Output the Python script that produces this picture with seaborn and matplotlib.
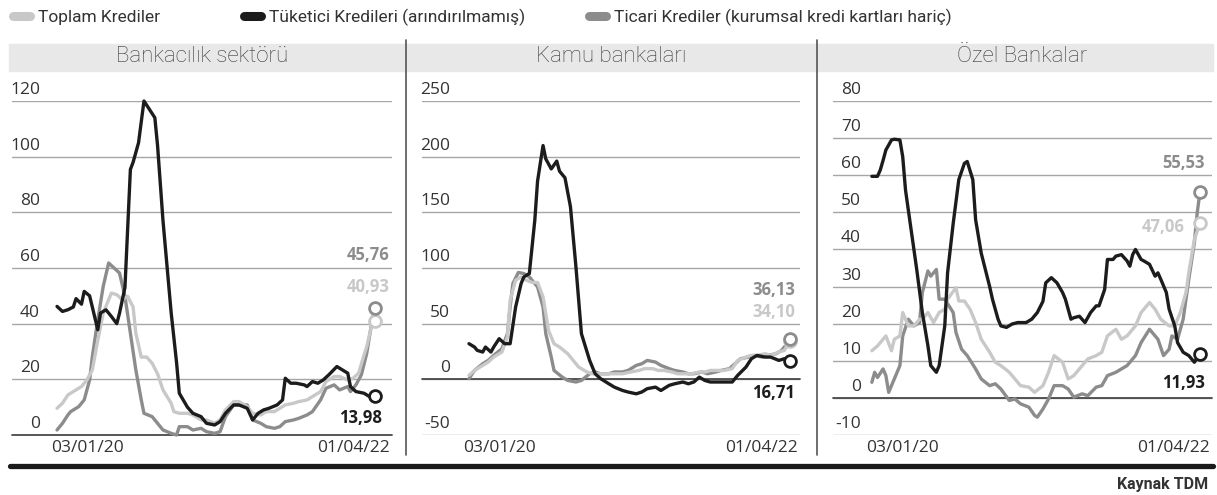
import numpy as np
import pandas as pd
import matplotlib
matplotlib.use("Agg")
import matplotlib.pyplot as plt
import seaborn as sns
from matplotlib.lines import Line2D
from matplotlib.patches import Rectangle

# Haftalık seriler: hafta no (03/01/2020 = 0, 01/04/2022 = 117) ve yıllık değişim (%)
# Bankacılık sektörü
banka_toplam_hafta = [0, 2, 4, 6, 9, 11, 13, 15, 17, 18, 20, 22, 24, 26, 28, 29, 31, 33, 35, 37,
                      39, 42, 43, 45, 48, 50, 53, 55, 58, 60, 62, 65, 67, 70, 72, 75, 77, 80, 82, 84,
                      87, 89, 92, 94, 97, 99, 102, 104, 107, 109, 111, 113, 114, 116, 117]
banka_toplam = [9.6, 11.4, 14.4, 15.6, 17.4, 19.8, 23.4, 34, 43.8, 46.2, 51, 50.4, 48.6, 49.8, 46, 36.6, 28, 28, 25.8, 22,
                16.2, 11.4, 8.4, 7.8, 7.8, 7.2, 5.4, 5.4, 4.2, 5.4, 9, 12, 12, 10.2, 7.8, 7.2, 8.4, 8.4, 9.6, 10.8,
                11.4, 12, 12.6, 13.8, 15.6, 19.2, 21, 21, 19.8, 20.4, 22.2, 28.8, 31.8, 40.2, 40.93]
banka_tuketici_hafta = [0, 2, 4, 6, 7, 9, 10, 12, 15, 16, 18, 20, 22, 23, 25, 27, 28, 30, 32, 34,
                        36, 37, 39, 42, 44, 45, 48, 50, 53, 55, 58, 60, 62, 65, 67, 70, 72, 74, 76, 78,
                        81, 83, 84, 86, 88, 91, 92, 94, 96, 98, 100, 103, 105, 107, 108, 110, 113, 115, 117]
banka_tuketici = [46.2, 44.4, 45, 46, 49, 47, 51.6, 50, 37.8, 43.8, 45, 42.6, 40, 43.8, 53, 95.4, 98, 105, 120, 117,
                  114, 104, 77, 44, 26, 15, 10, 7.8, 6.6, 4.2, 3.6, 4.8, 7.8, 10.8, 10.8, 9.6, 5.4, 7.8, 9, 9.6,
                  10.8, 12.6, 20.4, 18.6, 18.6, 18, 17.4, 19.2, 18.6, 19.8, 21.6, 24.6, 23.4, 22.2, 17.4, 15.6, 15, 13.8, 13.98]
banka_ticari_hafta = [0, 2, 4, 5, 8, 10, 12, 13, 15, 17, 19, 21, 23, 25, 27, 29, 31, 32, 35, 37,
                      39, 42, 44, 45, 48, 50, 53, 55, 58, 60, 62, 65, 67, 70, 72, 75, 77, 80, 82, 84,
                      87, 89, 92, 94, 97, 99, 102, 104, 107, 108, 110, 112, 114, 116, 117]
banka_ticari = [1.8, 4.2, 7.2, 8.4, 10.2, 12.6, 19.8, 28.2, 41.4, 53.4, 61.8, 60, 58.2, 49.8, 36.6, 23.4, 12.6, 7.8, 6.6, 4.2,
                1.8, 0.6, 0, 3, 3, 1.8, 2.4, 1.2, 0.6, 1.2, 6.6, 10.8, 10.8, 10.8, 5.4, 4.2, 3, 2.4, 3, 4.8,
                5.4, 6, 7.2, 8.4, 12.6, 16.8, 18, 16.2, 17.4, 15.6, 18, 21.6, 29.4, 41.4, 45.76]

# Kamu bankaları
kamu_toplam_hafta = [0, 2, 5, 7, 9, 12, 14, 15, 17, 19, 20, 23, 25, 27, 29, 31, 33, 36, 38, 40,
                     43, 45, 48, 52, 56, 59, 62, 64, 67, 69, 71, 74, 76, 79, 81, 84, 86, 88, 91, 93,
                     96, 98, 101, 103, 105, 108, 110, 113, 115, 117]
kamu_toplam = [3.6, 8, 12.5, 15.5, 20, 24.5, 38, 71, 89, 92, 90, 87, 87, 74, 44, 32, 29, 23, 17, 11,
               6.6, 5, 5, 5, 5, 6.6, 8, 9.6, 9.6, 8, 8, 6.6, 5, 5, 5, 6.6, 6.6, 8, 8, 8,
               9.6, 17, 20, 21.5, 21.5, 23, 21.5, 24.5, 26, 34.10]
kamu_tuketici_hafta = [0, 2, 3, 5, 6, 8, 9, 11, 13, 15, 17, 19, 20, 22, 24, 25, 27, 28, 30, 32,
                       33, 35, 37, 39, 41, 44, 46, 48, 51, 53, 56, 58, 61, 63, 65, 68, 70, 73, 75, 78,
                       80, 82, 84, 86, 88, 91, 93, 96, 98, 101, 103, 105, 108, 110, 113, 115, 117]
kamu_tuketici = [32, 29, 26, 24.5, 29, 24.5, 29, 36.5, 32, 32, 65, 86, 92, 95, 143, 178, 210, 198, 189, 196,
                 187, 181, 155, 101, 41, 17, 5, 0.6, -4, -7, -10, -11.4, -13, -11.4, -8.4, -7, -10, -5.4, -4, -2.4,
                 -4, -2.4, 2, -1, -2.4, -2.4, -2.4, -2.4, 3.6, 11, 18.5, 21.5, 20, 20, 17, 18.5, 16.71]
kamu_ticari_hafta = [0, 2, 5, 7, 9, 12, 14, 15, 16, 18, 20, 22, 23, 25, 27, 28, 30, 31, 34, 36,
                     39, 41, 44, 46, 48, 51, 53, 56, 58, 61, 63, 65, 68, 70, 73, 75, 78, 80, 82, 85,
                     87, 90, 92, 95, 97, 99, 102, 104, 107, 109, 112, 114, 116, 117]
kamu_ticari = [0.6, 8, 14, 17, 21.5, 27.5, 41, 65, 86, 96, 95, 92, 89, 83, 65, 41, 20, 8, 2, -1,
               -2.4, -1, 5, 6.6, 5, 5, 6.6, 6.6, 8, 12.5, 14, 17, 15.5, 12.5, 9.6, 8, 6.6, 5, 5, 6.6,
               5, 6.6, 8, 9.6, 14, 18.5, 20, 21.5, 20, 21.5, 23, 26, 32, 36.13]

# Özel bankalar
ozel_toplam_hafta = [0, 2, 4, 5, 7, 8, 10, 11, 13, 15, 17, 18, 20, 22, 24, 26, 27, 30, 31, 33,
                     35, 37, 39, 42, 44, 46, 49, 51, 53, 56, 58, 61, 63, 65, 68, 70, 72, 75, 77, 80,
                     82, 84, 87, 89, 91, 94, 96, 99, 101, 103, 106, 108, 110, 112, 113, 115, 117]
ozel_toplam = [12.7, 14, 15.8, 16.7, 12.7, 15.8, 16.7, 23, 19.4, 19.4, 21.2, 21.2, 23, 20.3, 23, 23.9, 26.6, 29.7, 26.1, 26.1,
               23.9, 20.3, 15.8, 12.3, 9.6, 8.7, 6.9, 5.1, 3.3, 2.9, 1.5, 3.3, 6.9, 11.4, 9.6, 5.1, 6, 8.7, 10.5, 11.4,
               12.3, 16.7, 18.5, 15.8, 16.7, 19.4, 23, 25.7, 23.9, 21.2, 19.4, 19.4, 23, 28.4, 33.7, 42.7, 47.06]
ozel_tuketici_hafta = [0, 2, 3, 4, 5, 7, 8, 10, 11, 12, 14, 16, 18, 20, 21, 23, 24, 26, 27, 29,
                       31, 33, 34, 36, 37, 39, 42, 43, 45, 46, 48, 50, 52, 55, 57, 59, 61, 62, 64, 66,
                       68, 69, 71, 72, 74, 76, 78, 80, 81, 83, 84, 86, 87, 89, 91, 92, 93, 94, 96, 97,
                       99, 101, 102, 103, 105, 106, 108, 109, 111, 113, 115, 117]
ozel_tuketici = [59.7, 59.7, 61.4, 64, 66.8, 69.5, 69.7, 69.5, 65, 56, 45.3, 34.6, 23, 14, 8.7, 6.9, 8.7, 19.4, 33.7, 47,
                 58.8, 63.2, 63.7, 58.8, 48, 39, 30, 26.6, 21.2, 19.4, 19, 19.9, 20.3, 20.3, 21.2, 23, 26, 31, 32.4, 31,
                 28.4, 26.6, 21.2, 21.6, 22, 20.3, 23, 24.8, 24.8, 29.2, 37.3, 37.3, 38.2, 38.6, 36.9, 35.5, 38.6, 40, 37.3, 36.9,
                 36, 32.8, 33.7, 32, 28.4, 23.9, 19.4, 14.9, 12.3, 11.4, 9.6, 11.93]
ozel_ticari_hafta = [0, 1, 2, 4, 5, 6, 8, 10, 11, 13, 15, 17, 18, 20, 21, 23, 24, 26, 29, 30,
                     32, 34, 37, 39, 42, 44, 46, 49, 51, 53, 56, 58, 59, 61, 63, 65, 68, 70, 72, 75,
                     77, 80, 82, 84, 87, 89, 91, 94, 96, 99, 100, 102, 104, 106, 107, 109, 111, 113, 115, 116, 117]
ozel_ticari = [4.2, 6.9, 5.5, 7.8, 6, 1.5, 5.1, 8.7, 16.7, 21.2, 19.4, 20.3, 28.4, 34.2, 32.8, 34.6, 26.6, 26.6, 23, 17.6,
               13.1, 11.4, 7.8, 5.1, 3.3, 3.8, 2.4, -0.7, -0.3, -1.6, -2.5, -4.7, -5.2, -3, -0.3, 3.3, 3.3, 2.4, 0.2, 1.1,
               0.6, 2.9, 3.3, 6, 6.9, 7.8, 8.7, 11.4, 14.9, 18.5, 17.6, 15.8, 11.4, 13.1, 16.7, 15.8, 21.2, 31.9, 41.8, 49.8, 55.53]

seri_adlari = ["Toplam Krediler", "Tüketici Kredileri (arındırılmamış)",
               "Ticari Krediler (kurumsal kredi kartları hariç)"]
renkler = {seri_adlari[0]: "#c8c8c8", seri_adlari[1]: "#1c1c1c", seri_adlari[2]: "#8c8c8c"}
baslangic = pd.Timestamp("2020-01-03")
bitis = pd.Timestamp("2022-04-01")

sns.set_theme(style="white")
plt.rcParams["font.family"] = ["Roboto", "DejaVu Sans"]
rakam_font = ["Open Sans", "DejaVu Sans"]


def tablo(parcalar):
    dfs = []
    for ad, hafta, deger in parcalar:
        dfs.append(pd.DataFrame({
            "tarih": baslangic + pd.to_timedelta(np.array(hafta) * 7, unit="D"),
            "deger": deger,
            "seri": ad,
        }))
    return pd.concat(dfs, ignore_index=True)


# (başlık, seriler, y tikleri, x kenar boşluğu (gün), eksen yeri, son değer etiket kaydırmaları)
paneller = [
    ("Bankacılık sektörü",
     [(seri_adlari[0], banka_toplam_hafta, banka_toplam),
      (seri_adlari[1], banka_tuketici_hafta, banka_tuketici),
      (seri_adlari[2], banka_ticari_hafta, banka_ticari)],
     list(range(0, 121, 20)), (116, 44), [12, 380],
     {seri_adlari[2]: (15, 53), seri_adlari[0]: (15, 34), seri_adlari[1]: (7, -22)}),
    ("Kamu bankaları",
     [(seri_adlari[0], kamu_toplam_hafta, kamu_toplam),
      (seri_adlari[1], kamu_tuketici_hafta, kamu_tuketici),
      (seri_adlari[2], kamu_ticari_hafta, kamu_ticari)],
     list(range(-50, 251, 50)), (120, 26), [422, 378],
     {seri_adlari[2]: (5, 49), seri_adlari[0]: (5, 29), seri_adlari[1]: (5, -32)}),
    ("Özel Bankalar",
     [(seri_adlari[0], ozel_toplam_hafta, ozel_toplam),
      (seri_adlari[1], ozel_tuketici_hafta, ozel_tuketici),
      (seri_adlari[2], ozel_ticari_hafta, ozel_ticari)],
     list(range(-10, 81, 10)), (97, 30), [833, 379],
     {seri_adlari[2]: (5, 29), seri_adlari[0]: (-15, -4), seri_adlari[1]: (5, -29)}),
]

W, H = 1217, 495
fig = plt.figure(figsize=(W / 100, H / 100), dpi=100)
fig.patch.set_facecolor("white")

# başlık şeridi
fig.patches.append(Rectangle((9 / W, 1 - 71 / H), (1213 - 9) / W, 27 / H,
                             transform=fig.transFigure, color="#e8e8e8", zorder=0))
for x in [406, 817]:
    fig.add_artist(Line2D([x / W, x / W], [1 - 40 / H, 1 - 455 / H], color="#555555", lw=1.2))
fig.add_artist(Line2D([10 / W, 1213 / W], [1 - 466 / H, 1 - 466 / H], color="#1a1a1a", lw=3.8))

for baslik, parcalar, tikler, bosluk, yer, kaydir in paneller:
    ax = fig.add_axes([yer[0] / W, 60 / H, yer[1] / W, 334 / H])
    df = tablo(parcalar)
    sira = [seri_adlari[2], seri_adlari[0], seri_adlari[1]]
    sns.lineplot(data=df, x="tarih", y="deger", hue="seri", hue_order=sira, palette=renkler,
                 linewidth=2.4, legend=False, ax=ax)
    for ln in ax.lines:
        ln.set_clip_on(False)
        ln.set_solid_joinstyle("round")

    ax.set_xlim(baslangic - pd.Timedelta(days=bosluk[0]), bitis + pd.Timedelta(days=bosluk[1]))
    ax.set_ylim(tikler[0], tikler[-1])
    ax.set_yticks(tikler)
    ax.set_xticks([])
    ax.tick_params(axis="y", length=0, labelleft=False)
    ax.grid(axis="y", color="#a6a6a6", lw=1)
    ax.axhline(0, color="#4a4a4a", lw=1.3, zorder=1, clip_on=False)
    for s in ax.spines.values():
        s.set_visible(False)
    ax.set_xlabel("")
    ax.set_ylabel("")

    for t in tikler:
        ax.annotate(str(t), xy=(0, t), xycoords=("axes fraction", "data"),
                    xytext=(28, 3), textcoords="offset pixels", ha="right", va="bottom",
                    fontsize=12.5, color="#333333", family=rakam_font)

    ax.annotate("03/01/20", xy=(baslangic, 0), xycoords=("data", "axes fraction"),
                xytext=(-6, -5), textcoords="offset pixels", ha="left", va="top",
                fontsize=12.5, color="#333333", family=rakam_font)
    ax.annotate("01/04/22", xy=(1, 0), xycoords="axes fraction",
                xytext=(-2, -5), textcoords="offset pixels", ha="right", va="top",
                fontsize=12.5, color="#333333", family=rakam_font)

    for ad, hafta, deger in parcalar:
        son_tarih = baslangic + pd.Timedelta(days=7 * hafta[-1])
        ax.plot([son_tarih], [deger[-1]], "o", ms=8.5, mfc="white", mec=renkler[ad],
                mew=2, clip_on=False, zorder=6)
        dx, dy = kaydir[ad]
        ax.annotate(f"{deger[-1]:.2f}".replace(".", ","), xy=(son_tarih, deger[-1]),
                    xytext=(dx, dy), textcoords="offset pixels", ha="right", va="center",
                    fontsize=12, fontweight="bold", color=renkler[ad], family=rakam_font)

    merkez = (yer[0] + yer[1] / 2) / W
    fig.text(merkez, 1 - 57 / H, baslik, ha="center", va="center",
             fontsize=16, fontweight="light", color="#3a3a3a")

# lejant
for ad, x in zip(seri_adlari, [13, 244, 589]):
    h = Line2D([], [], color=renkler[ad], lw=6.5, solid_capstyle="round")
    fig.legend(handles=[h], labels=[ad], loc="center left", bbox_to_anchor=(x / W, 1 - 17 / H),
               frameon=False, handlelength=1.0, handletextpad=0.45, borderaxespad=0, borderpad=0,
               prop={"size": 12.5}, labelcolor="#333333")

fig.text(1208 / W, 1 - 485 / H, "Kaynak TDM", ha="right", va="center",
         fontsize=11.5, fontweight="bold", color="#333333")

fig.savefig("out.png", dpi=100, facecolor="white")
